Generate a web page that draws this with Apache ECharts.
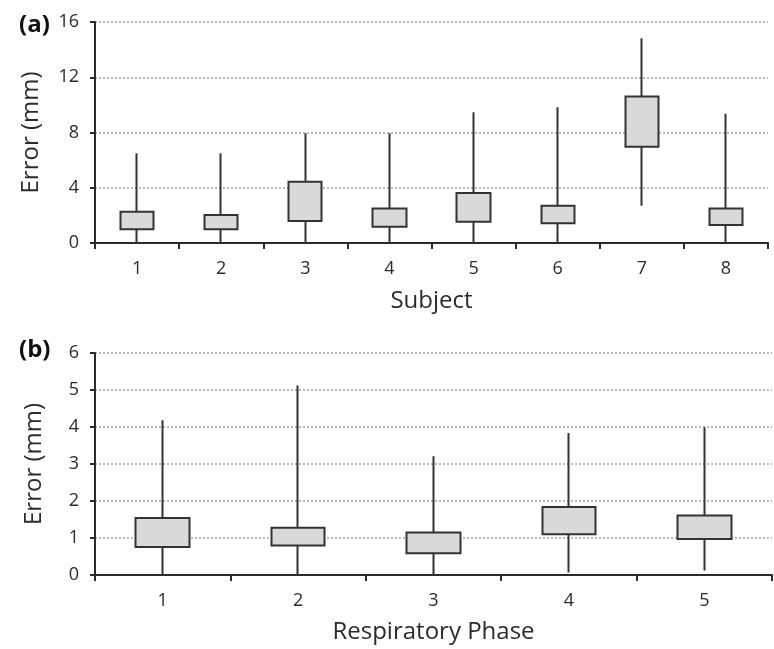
<!DOCTYPE html>
<html>
<head>
<meta charset="utf-8">
<script src="https://cdn.jsdelivr.net/npm/echarts@6/dist/echarts.min.js"></script>
<style>
  html, body { margin: 0; padding: 0; background: #fff; }
  #chart { width: 774px; height: 649px; }
</style>
</head>
<body>
<div id="chart"></div>
<script>
// panel (a): per subject
var subjects = ['1', '2', '3', '4', '5', '6', '7', '8'];
var subjMin = [0, 0, 0, 0, 0, 0, 2.7, 0];
var subjQ1  = [0.99, 1.0, 1.59, 1.18, 1.54, 1.43, 6.96, 1.30];
var subjQ3  = [2.27, 2.03, 4.44, 2.49, 3.62, 2.70, 10.6, 2.49];
var subjMax = [6.5, 6.5, 7.95, 7.95, 9.47, 9.83, 14.83, 9.35];

// panel (b): per respiratory phase
var phases = ['1', '2', '3', '4', '5'];
var phaseMin = [0, 0, 0, 0.07, 0.12];
var phaseQ1  = [0.76, 0.80, 0.59, 1.10, 0.97];
var phaseQ3  = [1.54, 1.28, 1.15, 1.84, 1.61];
var phaseMax = [4.18, 5.12, 3.21, 3.84, 3.99];

var yTicksA = [0, 4, 8, 12, 16];
var yTicksB = [0, 1, 2, 3, 4, 5, 6];

// candlestick: [open, close, lowest, highest] -> box Q1..Q3, whiskers min..max
function boxes(mn, q1, q3, mx) {
  return q1.map(function (v, i) { return [v, q3[i], mn[i], mx[i]]; });
}

var font = 'Open Sans';
var ink = '#2b2b2b';

function xAx(idx, cats, name, gap) {
  return {
    type: 'category', gridIndex: idx, data: cats,
    name: name, nameLocation: 'middle', nameGap: gap,
    nameTextStyle: { fontSize: 24, color: ink, fontFamily: font },
    axisLine: { lineStyle: { color: ink, width: 2 } },
    axisTick: { show: true, length: 6, lineStyle: { color: ink, width: 2 } },
    axisLabel: { fontSize: 18, color: ink, fontFamily: font, margin: 17 },
    splitLine: { show: false }
  };
}
function yAx(idx, ticks, gap) {
  return {
    type: 'value', gridIndex: idx,
    min: ticks[0], max: ticks[ticks.length - 1], interval: ticks[1] - ticks[0],
    name: 'Error (mm)', nameLocation: 'middle', nameGap: gap,
    nameTextStyle: { fontSize: 24, color: ink, fontFamily: font },
    axisLine: { show: true, lineStyle: { color: ink, width: 2 } },
    axisTick: { show: true, length: 5, lineStyle: { color: ink, width: 2 } },
    axisLabel: { fontSize: 18, color: ink, fontFamily: font, margin: 16 },
    splitLine: { show: true, lineStyle: { color: '#b8b8b8', type: 'dotted', width: 2 } }
  };
}
var boxStyle = {
  color: '#d9d9d9', color0: '#d9d9d9',
  borderColor: '#333', borderColor0: '#333', borderWidth: 2
};

var myChart = echarts.init(document.getElementById('chart'));
var option = {
  backgroundColor: '#fff',
  animation: false,
  title: [
    { text: '(a)', left: 14, top: 8, textStyle: { fontSize: 24, fontWeight: 'bold', color: '#111', fontFamily: font } },
    { text: '(b)', left: 14, top: 333, textStyle: { fontSize: 24, fontWeight: 'bold', color: '#111', fontFamily: font } }
  ],
  grid: [
    { left: 95, right: 6, top: 22, height: 221 },
    { left: 95, right: 2, top: 353, height: 222 }
  ],
  xAxis: [xAx(0, subjects, 'Subject', 46), xAx(1, phases, 'Respiratory Phase', 45)],
  yAxis: [yAx(0, yTicksA, 52), yAx(1, yTicksB, 49)],
  series: [
    {
      type: 'candlestick', xAxisIndex: 0, yAxisIndex: 0, barWidth: '40%',
      itemStyle: boxStyle,
      data: boxes(subjMin, subjQ1, subjQ3, subjMax)
    },
    {
      type: 'candlestick', xAxisIndex: 1, yAxisIndex: 1, barWidth: '40%',
      itemStyle: boxStyle,
      data: boxes(phaseMin, phaseQ1, phaseQ3, phaseMax)
    }
  ]
};
myChart.setOption(option, true);
</script>
</body>
</html>
